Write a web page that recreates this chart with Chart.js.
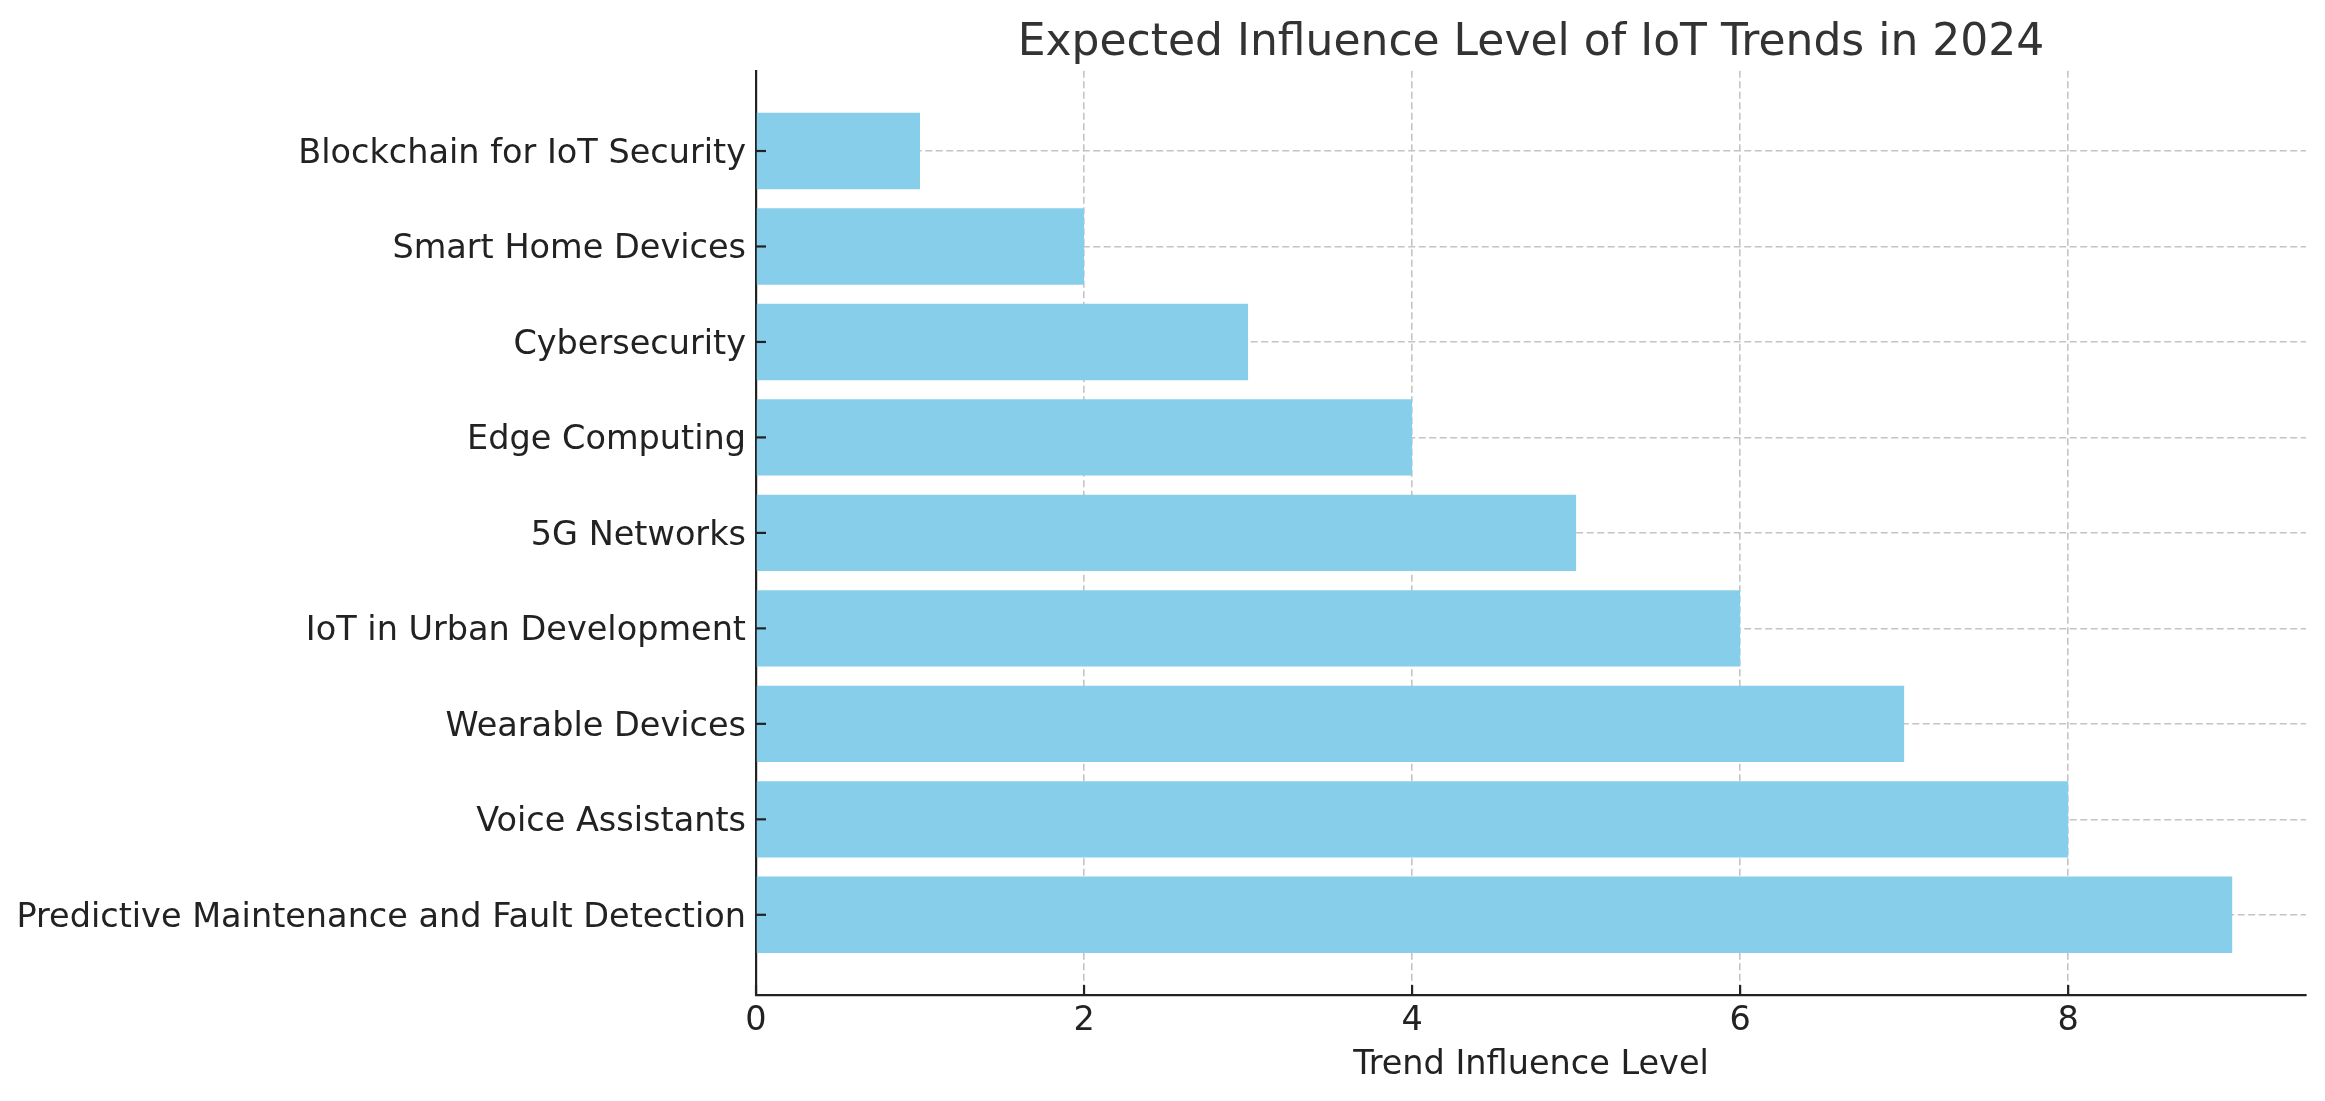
<!DOCTYPE html>
<html>
<head>
<meta charset="utf-8">
<script src="https://cdn.jsdelivr.net/npm/chart.js@4"></script>
<style>
  body { margin: 0; background: #fff; }
  #wrap { width: 2325px; height: 1101px; }
</style>
</head>
<body>
<div id="wrap"><canvas id="myChart"></canvas></div>
<script>
// bottom to top, like the matplotlib barh order
const trends = [
  "Predictive Maintenance and Fault Detection",
  "Voice Assistants",
  "Wearable Devices",
  "IoT in Urban Development",
  "5G Networks",
  "Edge Computing",
  "Cybersecurity",
  "Smart Home Devices",
  "Blockchain for IoT Security",
];
const influence = [9, 8, 7, 6, 5, 4, 3, 2, 1];
const xTicks = [0, 2, 4, 6, 8];

const FONT = "'DejaVu Sans', sans-serif";
const ctx = document.getElementById("myChart");

// matplotlib-style ticks pointing into the plot
const inwardTicks = {
  id: "inwardTicks",
  afterLayout(chart) {
    // centre the title over the plot area, not the whole canvas
    const t = chart.titleBlock;
    if (t) {
      t.left = chart.chartArea.left;
      t.right = chart.chartArea.right;
      t.width = t.right - t.left;
    }
  },
  afterDraw(chart) {
    const { ctx, scales: { x, y } } = chart;
    ctx.save();
    ctx.strokeStyle = "#222";
    ctx.lineWidth = 2.2;
    x.ticks.forEach((t) => {
      const px = x.getPixelForValue(t.value);
      ctx.beginPath();
      ctx.moveTo(px, x.top);
      ctx.lineTo(px, x.top - 10);
      ctx.stroke();
    });
    y.ticks.forEach((t) => {
      const py = y.getPixelForValue(t.value);
      ctx.beginPath();
      ctx.moveTo(y.right, py);
      ctx.lineTo(y.right + 10, py);
      ctx.stroke();
    });
    ctx.restore();
  },
};

new Chart(ctx, {
  type: "bar",
  data: {
    datasets: [
      {
        label: "Influence",
        data: trends.map((t, i) => ({ x: influence[i], y: i })),
        backgroundColor: "#87CEEB",
        borderWidth: 0,
        categoryPercentage: 0.8,
        barPercentage: 1,
      },
    ],
  },
  options: {
    indexAxis: "y",
    responsive: true,
    maintainAspectRatio: false,
    devicePixelRatio: 1,
    animation: false,
    layout: { padding: { left: 0, right: 19, top: 0, bottom: 0 } },
    plugins: {
      legend: { display: false },
      tooltip: { enabled: false },
      title: {
        display: true,
        text: "Expected Influence Level of IoT Trends in 2024",
        color: "#333",
        font: { family: FONT, size: 44, weight: "normal" },
        padding: { top: 17, bottom: 1 },
      },
    },
    scales: {
      x: {
        type: "linear",
        min: 0,
        max: 9.45,
        z: 1,
        afterBuildTicks: (axis) => { axis.ticks = xTicks.map((v) => ({ value: v })); },
        afterFit: (axis) => { axis.height = 106; },
        ticks: {
          color: "#222",
          font: { family: FONT, size: 33.5 },
          padding: 6,
        },
        grid: { color: "#c4c4c4", lineWidth: 1.6, drawTicks: false },
        border: { color: "#222", width: 2.2, dash: [7, 3.5] },
        title: {
          display: true,
          text: "Trend Influence Level",
          color: "#222",
          font: { family: FONT, size: 33.5 },
          padding: { top: 0, bottom: 16 },
        },
      },
      y: {
        type: "linear",
        min: -0.84,
        max: 8.84,
        offset: false,
        z: 1,
        afterBuildTicks: (axis) => { axis.ticks = trends.map((t, i) => ({ value: i })); },
        afterFit: (axis) => { axis.width = 756; },
        ticks: {
          color: "#222",
          font: { family: FONT, size: 33.5 },
          padding: 10,
          labelOffset: 3,
          autoSkip: false,
          callback: (v) => trends[v],
        },
        grid: { color: "#c4c4c4", lineWidth: 1.6, drawTicks: false, offset: false },
        border: { color: "#222", width: 2.2, dash: [7, 3.5] },
      },
    },
  },
  plugins: [inwardTicks],
});
</script>
</body>
</html>
